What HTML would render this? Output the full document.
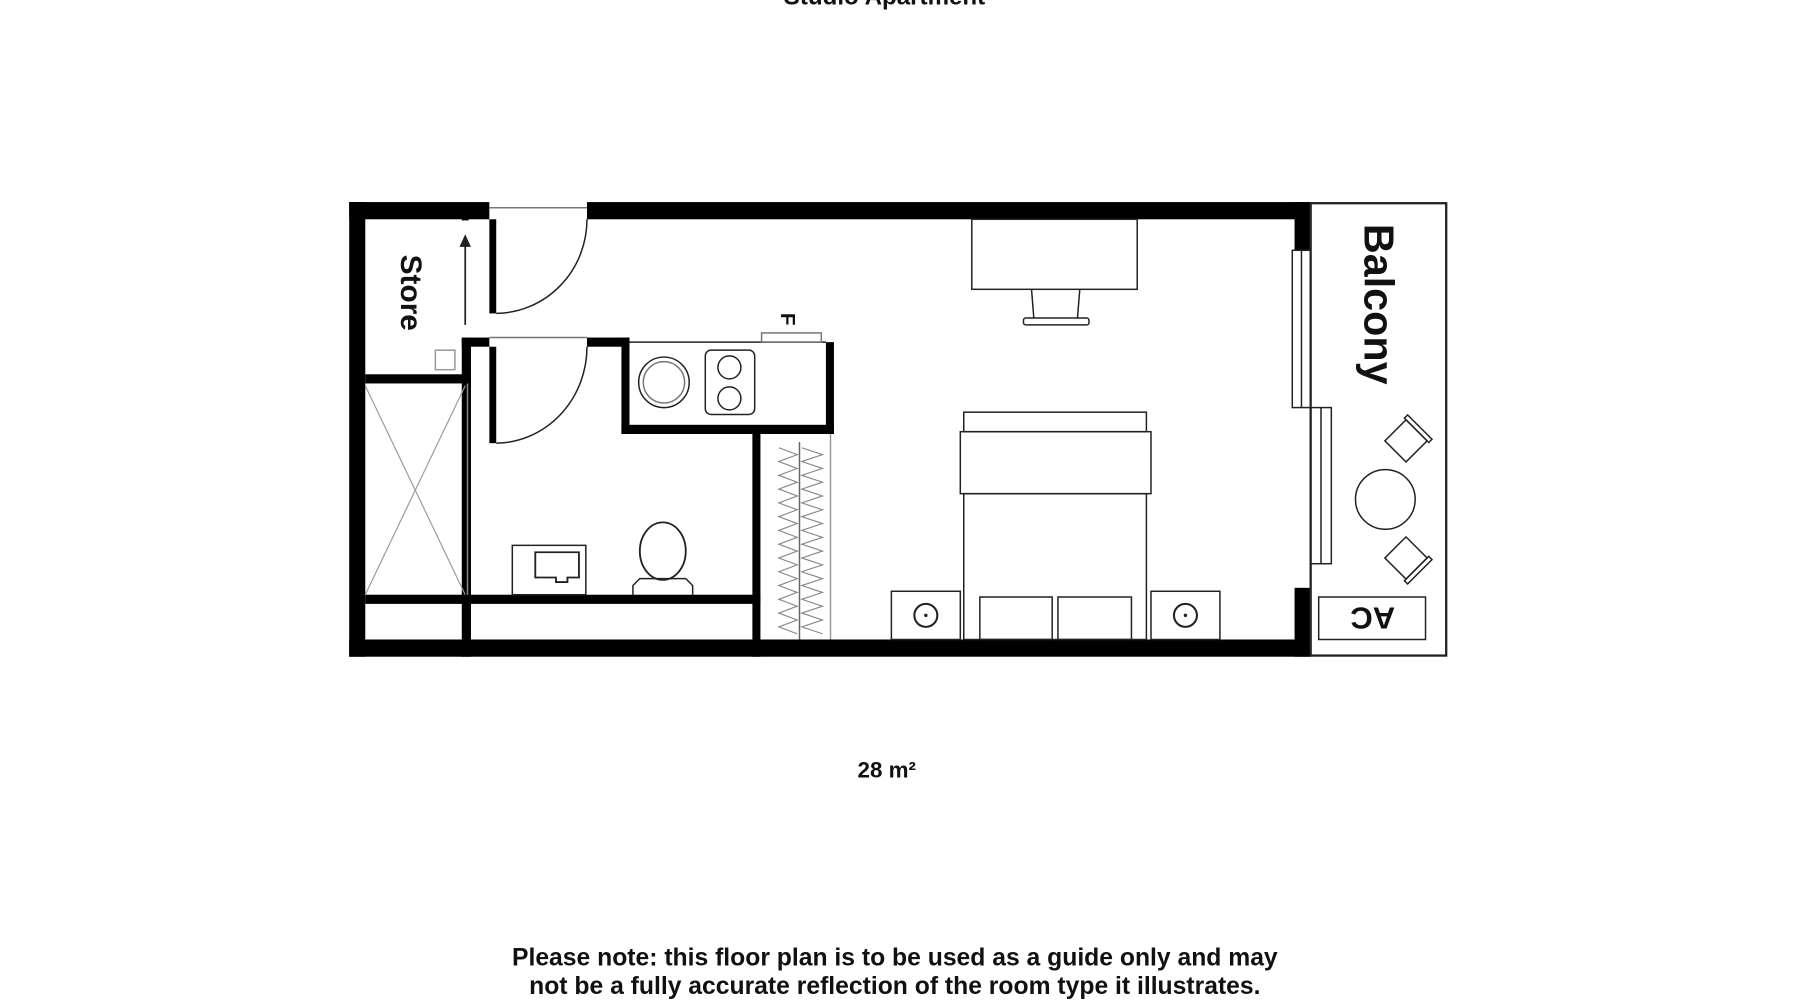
<!DOCTYPE html>
<html><head><meta charset="utf-8"><style>
html,body{margin:0;padding:0;background:#fff;}
svg{display:block;}
text{font-family:"Liberation Sans",Arial,sans-serif;font-weight:bold;fill:#111;}
</style></head><body>
<svg width="1800" height="1000" viewBox="0 0 1567 871" preserveAspectRatio="none" xmlns="http://www.w3.org/2000/svg">
<rect width="1567" height="871" fill="#fff"/>
<text x="770" y="4" font-size="21" text-anchor="middle">Studio Apartment</text>
<g fill="#000">
<rect x="304" y="176" width="122" height="15"/>
<rect x="511" y="176" width="630" height="15"/>
<rect x="304" y="176" width="14" height="396"/>
<rect x="304" y="557" width="837" height="15"/>
<rect x="1127" y="176" width="14" height="42"/>
<rect x="1127" y="512" width="14" height="60"/>
<rect x="402" y="294" width="8" height="278"/>
<rect x="318" y="326" width="92" height="8"/>
<rect x="426" y="191" width="6" height="82"/>
<rect x="402" y="294" width="24" height="8"/>
<rect x="511" y="294" width="37" height="8"/>
<rect x="426" y="302" width="6" height="84"/>
<rect x="541" y="294" width="7" height="84"/>
<rect x="541" y="370" width="185" height="8"/>
<rect x="719" y="298" width="7" height="80"/>
<rect x="655" y="378" width="7" height="194"/>
<rect x="318" y="518" width="344" height="8"/>
<rect x="402" y="186" width="6" height="6"/>
</g>
<g fill="none" stroke="#222" stroke-width="1.3">
<rect x="1141" y="177" width="118" height="394" stroke-width="2"/>
<line x1="426" y1="181" x2="511" y2="181" stroke="#777"/>
<path d="M432 273 A80 82 0 0 0 511 191"/>
<line x1="426" y1="294" x2="511" y2="294" stroke="#777"/>
<path d="M432 386 A80 84 0 0 0 511 302"/>
<line x1="548" y1="298" x2="719" y2="298"/>
<circle cx="578" cy="333" r="22"/><circle cx="578" cy="333" r="18" stroke="#777"/>
<rect x="614" y="305" width="43" height="56" rx="5"/>
<circle cx="635" cy="320" r="10"/><circle cx="635" cy="347" r="10"/>
<rect x="663" y="290" width="52" height="8" stroke="#777"/>
<line x1="723" y1="378" x2="723" y2="557" stroke="#999"/>
<line x1="696" y1="385" x2="696" y2="557" stroke="#666"/>
<path d="M678 390 l16 6 -16 6 16 6 -16 6 16 6 -16 6 16 6 -16 6 16 6 -16 6 16 6 -16 6 16 6 -16 6 16 6 -16 6 16 6 -16 6 16 6 -16 6 16 6 -16 6 16 6 -16 6 16 6 -16 6 16 6" stroke="#888" stroke-width="1"/>
<path d="M698 390 l18 6 -18 6 18 6 -18 6 18 6 -18 6 18 6 -18 6 18 6 -18 6 18 6 -18 6 18 6 -18 6 18 6 -18 6 18 6 -18 6 18 6 -18 6 18 6 -18 6 18 6 -18 6 18 6 -18 6 18 6" stroke="#888" stroke-width="1"/>
<line x1="407" y1="334" x2="407" y2="518" stroke="#888"/>
<line x1="318" y1="336" x2="405" y2="518" stroke="#999" stroke-width="1"/>
<line x1="405" y1="336" x2="318" y2="518" stroke="#999" stroke-width="1"/>
<rect x="379" y="305" width="17" height="17" stroke="#999"/>
<line x1="405" y1="283" x2="405" y2="210" stroke-width="1.5"/>
<rect x="446" y="475" width="64" height="43"/>
<path d="M466 481 h38 v22 h-10 v4 h-10 v-4 h-18 z" stroke-width="1.6"/>
<ellipse cx="577" cy="480" rx="20" ry="25" stroke-width="1.6"/>
<path d="M551 518 v-8 l6 -6 h40 l6 6 v8"/>
<rect x="846" y="191" width="144" height="61"/>
<path d="M898 252 l2 25 M940 252 l-2 25"/>
<rect x="891" y="277" width="57" height="6" rx="2"/>
<rect x="839" y="359" width="159" height="17"/>
<rect x="836" y="376" width="166" height="54"/>
<rect x="839" y="430" width="159" height="127"/>
<rect x="853" y="520" width="63" height="37"/>
<rect x="921" y="520" width="64" height="37"/>
<rect x="776" y="515" width="60" height="42"/>
<rect x="1002" y="515" width="60" height="42"/>
<circle cx="806" cy="536" r="10" stroke-width="1.8"/><circle cx="1032" cy="536" r="10" stroke-width="1.8"/>
<rect x="1125" y="218" width="16" height="137"/><line x1="1133" y1="218" x2="1133" y2="355"/>
<rect x="1141" y="355" width="18" height="136"/><line x1="1150" y1="355" x2="1150" y2="491"/>
<circle cx="1206" cy="435" r="26"/>
<g transform="translate(1224,384) rotate(45)"><rect x="-13" y="-13" width="26" height="26"/><rect x="-15" y="-17" width="30" height="4"/></g>
<g transform="translate(1224,486) rotate(135)"><rect x="-13" y="-13" width="26" height="26"/><rect x="-15" y="-17" width="30" height="4"/></g>
<rect x="1148" y="520" width="93" height="37"/>
</g>
<path d="M405 204 l-5 11 h10 z" fill="#222"/>
<circle cx="806" cy="536" r="1.5" fill="#222"/><circle cx="1032" cy="536" r="1.5" fill="#222"/>
<text transform="translate(349,255) rotate(90)" font-size="26" text-anchor="middle" font-weight="normal">Store</text>
<text transform="translate(680,278) rotate(90)" font-size="18" text-anchor="middle">F</text>
<text transform="translate(1188,265) rotate(90)" font-size="36" text-anchor="middle">Balcony</text>
<text transform="translate(1195,529) rotate(180)" font-size="27" text-anchor="middle" font-weight="normal">AC</text>
<text x="772" y="677" font-size="19.5" text-anchor="middle">28 m²</text>
<text x="779" y="841" font-size="21.5" text-anchor="middle">Please note: this floor plan is to be used as a guide only and may</text>
<text x="779" y="866" font-size="21.5" text-anchor="middle">not be a fully accurate reflection of the room type it illustrates.</text>
</svg>
</body></html>
